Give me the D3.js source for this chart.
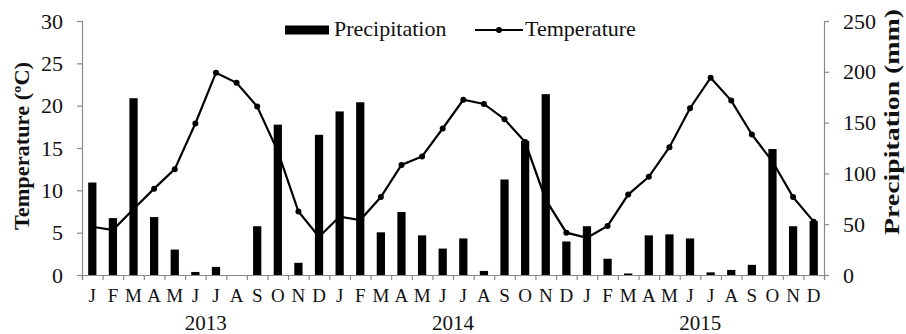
<!DOCTYPE html>
<html>
<head>
<meta charset="utf-8">
<script src="https://cdn.jsdelivr.net/npm/d3@7"></script>
<style>
  body { margin: 0; background: #fff; }
  text { font-family: "Liberation Serif", "Times New Roman", serif; fill: #111; }
</style>
</head>
<body>
<div id="chart"></div>
<script>
// data
const years = ["2013", "2014", "2015"];
const monthLetters = ["J", "F", "M", "A", "M", "J", "J", "A", "S", "O", "N", "D"];

const temperature = [
  5.7, 5.3, 7.8, 10.2, 12.5, 17.9, 23.9, 22.7, 19.9, 14.6, 7.5, 4.5,
  6.9, 6.5, 9.2, 13.0, 14.0, 17.3, 20.7, 20.2, 18.4, 15.7, 8.9, 5.0,
  4.4, 5.8, 9.5, 11.6, 15.1, 19.7, 23.3, 20.6, 16.6, 13.4, 9.2, 6.3
];

const precipitation = [
  91, 56, 174, 57, 25, 3, 8, 0, 48, 148, 12, 138,
  161, 170, 42, 62, 39, 26, 36, 4, 94, 132, 178, 33,
  48, 16, 1.5, 39, 40, 36, 2.6, 5, 10, 124, 48, 53
];

const tempTicks = [0, 5, 10, 15, 20, 25, 30];
const precTicks = [0, 50, 100, 150, 200, 250];

const width = 906, height = 334;
const margin = { top: 21, right: 82, bottom: 59, left: 82 };
const plotW = width - margin.left - margin.right;
const plotH = height - margin.top - margin.bottom;

const svg = d3.select("#chart").append("svg")
  .attr("width", width)
  .attr("height", height);

const g = svg.append("g")
  .attr("transform", `translate(${margin.left},${margin.top})`);

const idx = d3.range(precipitation.length);

const x = d3.scaleBand()
  .domain(idx)
  .range([0, plotW])
  .paddingInner(0.6)
  .paddingOuter(0.3);

const yT = d3.scaleLinear().domain([0, 30]).range([plotH, 0]);
const yP = d3.scaleLinear().domain([0, 250]).range([plotH, 0]);

const axisColor = "#8a8a8a";

// bars
g.selectAll(".bar")
  .data(idx)
  .enter().append("rect")
  .attr("class", "bar")
  .attr("x", i => x(i))
  .attr("width", x.bandwidth())
  .attr("y", i => yP(precipitation[i]))
  .attr("height", i => plotH - yP(precipitation[i]))
  .attr("fill", "#000");

// temperature line
const line = d3.line()
  .x(i => x(i) + x.bandwidth() / 2)
  .y(i => yT(temperature[i]));

g.append("path")
  .datum(idx)
  .attr("d", line)
  .attr("fill", "none")
  .attr("stroke", "#000")
  .attr("stroke-width", 2.2);

g.selectAll(".dot")
  .data(idx)
  .enter().append("circle")
  .attr("class", "dot")
  .attr("cx", i => x(i) + x.bandwidth() / 2)
  .attr("cy", i => yT(temperature[i]))
  .attr("r", 3)
  .attr("fill", "#000");

// left axis
const leftAxis = g.append("g")
  .call(d3.axisLeft(yT).tickValues(tempTicks).tickSize(5).tickPadding(14));
leftAxis.selectAll("text").style("font-size", "22px");

// right axis
const rightAxis = g.append("g")
  .attr("transform", `translate(${plotW},0)`)
  .call(d3.axisRight(yP).tickValues(precTicks).tickSize(5).tickPadding(14));
rightAxis.selectAll("text").style("font-size", "22px");

// bottom axis: ticks on band boundaries
const xb = d3.scaleLinear().domain([0, idx.length]).range([0, plotW]);
const bottomAxis = g.append("g")
  .attr("transform", `translate(0,${plotH})`)
  .call(d3.axisBottom(xb).tickValues(d3.range(idx.length + 1)).tickSize(5).tickFormat(""));

[leftAxis, rightAxis, bottomAxis].forEach(a => {
  a.select(".domain").attr("stroke", axisColor).attr("stroke-width", 1.2);
  a.selectAll(".tick line").attr("stroke", axisColor).attr("stroke-width", 1.2);
});

// month letters
g.selectAll(".month")
  .data(idx)
  .enter().append("text")
  .attr("class", "month")
  .attr("x", i => xb(i + 0.5))
  .attr("y", plotH + 27)
  .attr("text-anchor", "middle")
  .style("font-size", "19px")
  .text(i => monthLetters[i % 12]);

// year labels
g.selectAll(".year")
  .data(years)
  .enter().append("text")
  .attr("class", "year")
  .attr("x", (d, k) => xb(k * 12 + 6))
  .attr("y", plotH + 55)
  .attr("text-anchor", "middle")
  .style("font-size", "21px")
  .text(d => d);

// axis titles
svg.append("text")
  .attr("transform", `translate(29,146) rotate(-90)`)
  .attr("text-anchor", "middle")
  .attr("textLength", 168)
  .attr("lengthAdjust", "spacingAndGlyphs")
  .style("font-size", "21px")
  .style("font-weight", "bold")
  .text("Temperature (ºC)");

svg.append("text")
  .attr("transform", `translate(899,122) rotate(-90)`)
  .attr("text-anchor", "middle")
  .attr("textLength", 226)
  .attr("lengthAdjust", "spacingAndGlyphs")
  .style("font-size", "21px")
  .style("font-weight", "bold")
  .text("Precipitation (mm)");

// legend
const legend = svg.append("g");
legend.append("rect")
  .attr("x", 285).attr("y", 25.5)
  .attr("width", 44).attr("height", 9)
  .attr("fill", "#000");
legend.append("text")
  .attr("x", 334).attr("y", 36)
  .style("font-size", "22px")
  .text("Precipitation");
legend.append("line")
  .attr("x1", 475).attr("x2", 523)
  .attr("y1", 30).attr("y2", 30)
  .attr("stroke", "#000").attr("stroke-width", 2.2);
legend.append("circle")
  .attr("cx", 499).attr("cy", 30).attr("r", 3)
  .attr("fill", "#000");
legend.append("text")
  .attr("x", 525).attr("y", 36)
  .style("font-size", "22px")
  .text("Temperature");
</script>
</body>
</html>
